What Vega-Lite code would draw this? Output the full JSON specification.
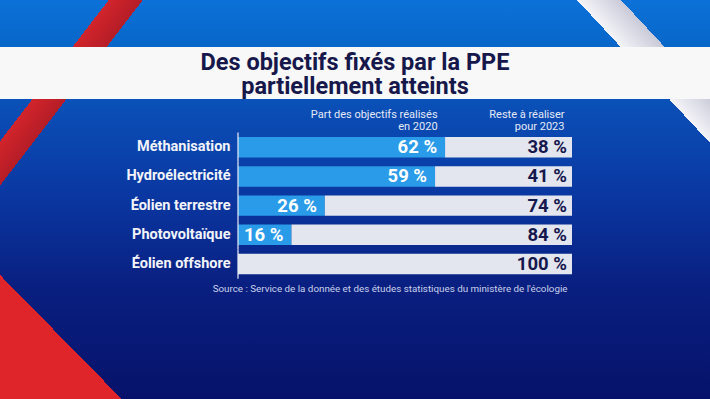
{
  "$schema": "https://vega.github.io/schema/vega-lite/v6.json",
  "width": 710,
  "height": 399,
  "autosize": {"type": "none"},
  "padding": 0,
  "background": "#0a3a9e",
  "config": {
    "view": {"stroke": null},
    "font": "Roboto, sans-serif",
    "locale": {"number": {"decimal": ",", "thousands": " ", "grouping": [3], "currency": ["", " %"]}}
  },
  "title": {
    "text": ["Des objectifs fixés par la PPE", "partiellement atteints"],
    "font": "Roboto, sans-serif",
    "fontWeight": "bold",
    "fontSize": 23.5,
    "color": "#16174b",
    "lineHeight": 24,
    "anchor": "middle",
    "frame": "group",
    "offset": -98
  },
  "layer": [
    {
      "data": {"values": [{}]},
      "mark": {"type": "rect", "fill": {"gradient": "linear", "x1": 0, "y1": 0, "x2": 0, "y2": 1, "stops": [
        {"offset": 0, "color": "#0b71d8"},
        {"offset": 0.12, "color": "#0866c8"},
        {"offset": 0.28, "color": "#0a4db5"},
        {"offset": 0.5, "color": "#0a36a0"},
        {"offset": 0.72, "color": "#091f80"},
        {"offset": 1, "color": "#06126a"}
      ]}},
      "encoding": {}
    },
    {
      "data": {"values": [{}]},
      "mark": {"type": "rect", "fill": {"gradient": "linear", "x1": 0, "y1": 0, "x2": 1, "y2": 0.4327, "stops": [
        {"offset": 0, "color": "rgba(0,0,0,0)"},
        {"offset": 0.129, "color": "rgba(0,0,0,0)"},
        {"offset": 0.129, "color": "#d2242b"},
        {"offset": 0.1694, "color": "#b51d27"},
        {"offset": 0.1694, "color": "rgba(0,0,0,0)"},
        {"offset": 1, "color": "rgba(0,0,0,0)"}
      ]}},
      "encoding": {}
    },
    {
      "data": {"values": [{}]},
      "mark": {"type": "rect", "fill": {"gradient": "linear", "x1": 0, "y1": 0, "x2": 0.7855, "y2": -0.4105, "stops": [
        {"offset": 0, "color": "rgba(0,0,0,0)"},
        {"offset": 0.8127, "color": "rgba(0,0,0,0)"},
        {"offset": 0.8127, "color": "#f4f4f8"},
        {"offset": 0.8746, "color": "#c9cad8"},
        {"offset": 0.8746, "color": "rgba(0,0,0,0)"},
        {"offset": 1, "color": "rgba(0,0,0,0)"}
      ]}},
      "encoding": {}
    },
    {
      "data": {"values": [{}]},
      "mark": {"type": "rect", "fill": {"gradient": "linear", "x1": 1, "y1": 0, "x2": -0.271, "y2": 0.7003, "stops": [
        {"offset": 0, "color": "rgba(0,0,0,0)"},
        {"offset": 0.8327, "color": "rgba(0,0,0,0)"},
        {"offset": 0.8327, "color": "#e0252a"},
        {"offset": 1, "color": "#e0252a"}
      ]}},
      "encoding": {}
    },
    {
      "data": {"values": [{}]},
      "mark": {"type": "rect", "fill": {"gradient": "linear", "x1": 0, "y1": 0, "x2": 0, "y2": 1, "stops": [
        {"offset": 0, "color": "rgba(0,0,0,0)"},
        {"offset": 0.1178, "color": "rgba(0,0,0,0)"},
        {"offset": 0.1178, "color": "#f8f8f8"},
        {"offset": 0.2481, "color": "#f8f8f8"},
        {"offset": 0.2481, "color": "rgba(0,0,0,0)"},
        {"offset": 1, "color": "rgba(0,0,0,0)"}
      ]}},
      "encoding": {}
    },
    {
      "data": {"values": [
        {"filiere": "Méthanisation", "realise": 62, "reste": 38},
        {"filiere": "Hydroélectricité", "realise": 59, "reste": 41},
        {"filiere": "Éolien terrestre", "realise": 26, "reste": 74},
        {"filiere": "Photovoltaïque", "realise": 16, "reste": 84},
        {"filiere": "Éolien offshore", "realise": 0, "reste": 100}
      ]},
      "transform": [
        {"fold": ["realise", "reste"], "as": ["part", "valeur"]},
        {"stack": "valeur", "groupby": ["filiere"], "sort": [{"field": "part", "order": "ascending"}], "as": ["debut", "fin"]}
      ],
      "layer": [
        {
          "mark": {"type": "bar"},
          "encoding": {
            "y": {"field": "filiere", "type": "nominal", "sort": null,
              "scale": {"paddingInner": 0.3, "paddingOuter": 0.15, "range": [132.6, 278.65]},
              "axis": {"orient": "left", "offset": -237, "domain": false, "ticks": false, "tickSize": 0, "grid": false,
                "labelPadding": 7, "title": null, "labelFont": "Roboto, sans-serif", "zindex": 2,
                "labelFontWeight": "bold", "labelFontSize": 14.5, "labelColor": "#f2f4fa", "labelLimit": 0}},
            "x": {"field": "debut", "type": "quantitative",
              "scale": {"domain": [-71.257, 141.32], "nice": false, "zero": false},
              "axis": {"orient": "top", "offset": -117.5, "values": [62, 100], "zindex": 2,
                "labelExpr": "datum.value == 62 ? ['Part des objectifs réalisés', 'en 2020'] : ['Reste à réaliser', 'pour 2023']",
                "domain": false, "ticks": false, "tickSize": 0, "grid": false, "labelPadding": 0,
                "labelAlign": "right", "labelBaseline": "alphabetic", "labelOffset": -8, "labelFontSize": 11,
                "labelColor": "#e6eaf5", "labelLineHeight": 11.5, "title": null, "labelFlush": false,
                "labelOverlap": false, "labelLimit": 0}},
            "x2": {"field": "fin"},
            "color": {"field": "part", "type": "nominal",
              "scale": {"domain": ["realise", "reste"], "range": ["#2a9be8", "#e3e6ee"]}, "legend": null}
          }
        },
        {
          "transform": [{"filter": "datum.part == 'realise'"}],
          "mark": {"type": "bar", "height": {"band": 1.43}, "stroke": "#e8ecf6", "strokeWidth": 1.2, "fill": null},
          "encoding": {
            "y": {"field": "filiere", "type": "nominal", "sort": null},
            "x": {"datum": 0, "axis": null}
          }
        },
        {
          "transform": [{"filter": "datum.part == 'realise' && datum.valeur > 0"}],
          "mark": {"type": "text", "align": "right", "baseline": "middle", "dx": -8, "fontWeight": "bold", "fontSize": 18.5, "color": "#ffffff"},
          "encoding": {
            "y": {"field": "filiere", "type": "nominal", "sort": null},
            "x": {"field": "fin", "type": "quantitative", "axis": null},
            "text": {"field": "valeur", "type": "quantitative", "format": "$d"}
          }
        },
        {
          "transform": [{"filter": "datum.part == 'reste'"}],
          "mark": {"type": "text", "align": "right", "baseline": "middle", "dx": -5, "fontWeight": "bold", "fontSize": 18.5, "color": "#15174d"},
          "encoding": {
            "y": {"field": "filiere", "type": "nominal", "sort": null},
            "x": {"field": "fin", "type": "quantitative",
              "axis": {"orient": "bottom", "offset": -116, "values": [100], "zindex": 2,
                "labelExpr": "\"Source : Service de la donnée et des études statistiques du ministère de l'écologie\"",
                "labelAlign": "right", "labelBaseline": "top", "labelOffset": -5, "labelPadding": 0, "tickSize": 0,
                "ticks": false, "domain": false, "grid": false, "labelFontSize": 9.8, "labelColor": "#c9d1ea",
                "title": null, "labelFlush": false, "labelOverlap": false, "labelLimit": 0}},
            "text": {"field": "valeur", "type": "quantitative", "format": "$d"}
          }
        }
      ],
      "resolve": {"axis": {"x": "independent"}}
    }
  ]
}
